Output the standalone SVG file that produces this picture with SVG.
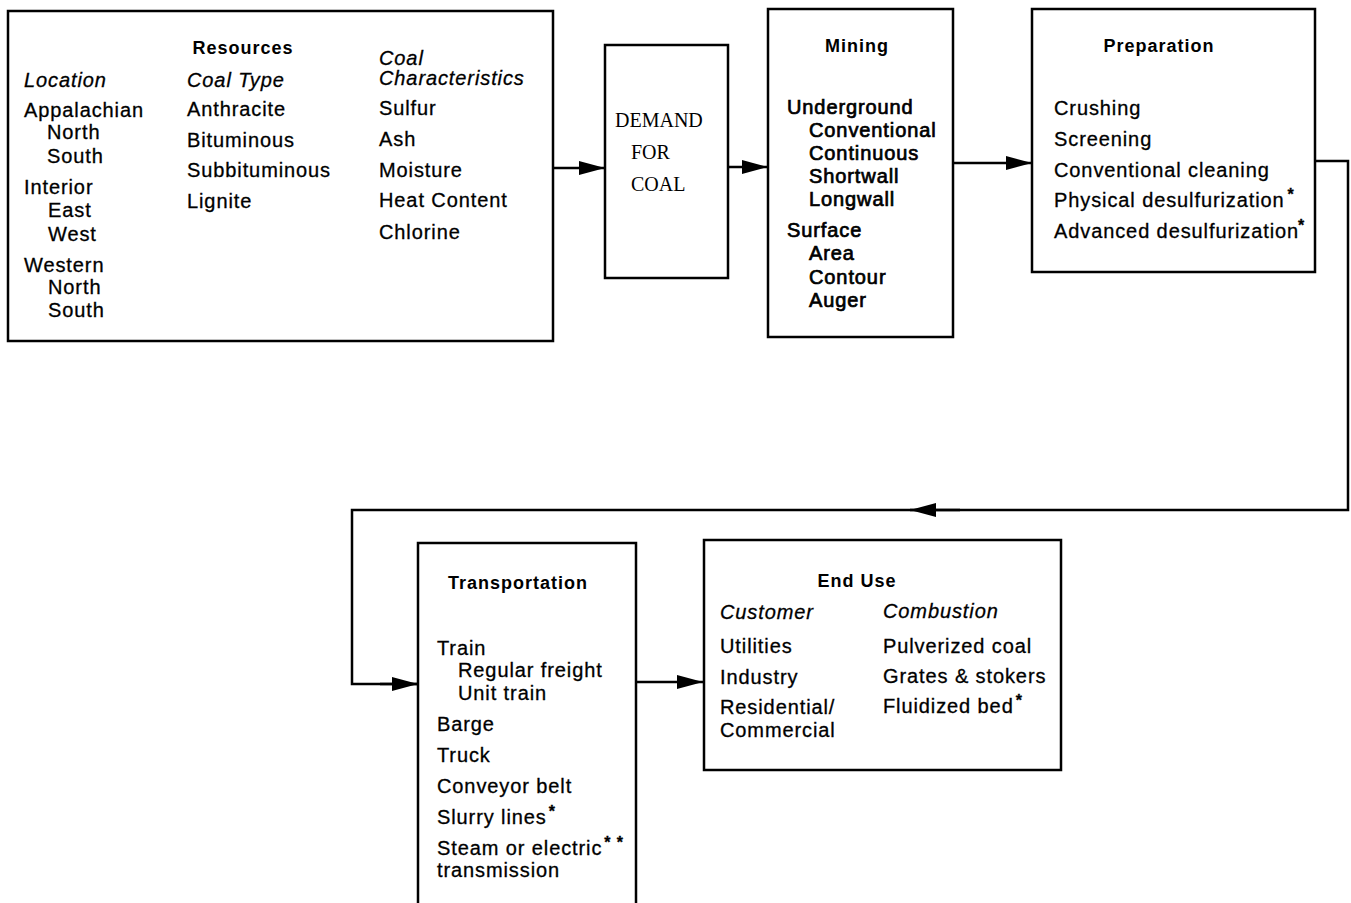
<svg xmlns="http://www.w3.org/2000/svg" width="1351" height="903" viewBox="0 0 1351 903">
<defs>
<marker id="ah" markerWidth="26" markerHeight="16" refX="26" refY="8" orient="auto" markerUnits="userSpaceOnUse">
<path d="M0,1 L26,8 L0,15 Z" fill="#000"/>
</marker>
<style>
.box{fill:#fff;stroke:#000;stroke-width:2.5}
.t{font-family:"Liberation Sans",Arial,sans-serif;font-size:20px;letter-spacing:0.9px;fill:#000;stroke:#000;stroke-width:0.3}
.m{stroke-width:0.7}
.i{font-style:italic}
.h{font-family:"Liberation Sans",Arial,sans-serif;font-size:18px;font-weight:bold;letter-spacing:1px;fill:#000;text-anchor:middle}
.s{font-family:"Liberation Serif","Times New Roman",serif;font-size:20px;fill:#000}
.c{fill:none;stroke:#000;stroke-width:2.5}
.sup{font-size:16px;font-weight:bold}
</style>
</defs>
<rect width="1351" height="903" fill="#fff"/>
<g id="connectors">
<path class="c" d="M553,168 L605,168" marker-end="url(#ah)"/>
<path class="c" d="M728,167 L768,167" marker-end="url(#ah)"/>
<path class="c" d="M953,163 L1032,163" marker-end="url(#ah)"/>
<path class="c" d="M1315,161 L1348,161 L1348,510 L352,510 L352,684 L418,684"/>
<path class="c" d="M960,510 L910,510" marker-end="url(#ah)"/>
<path class="c" d="M380,684 L418,684" marker-end="url(#ah)"/>
<path class="c" d="M636,682 L703,682" marker-end="url(#ah)"/>
</g>
<g id="resources">
<rect class="box" x="8" y="11" width="545" height="330"/>
<text class="h" x="243" y="54">Resources</text>
<text class="t i" x="24" y="87">Location</text>
<text class="t" x="24" y="117">Appalachian</text>
<text class="t" x="47" y="139">North</text>
<text class="t" x="47" y="163">South</text>
<text class="t" x="24" y="194">Interior</text>
<text class="t" x="48" y="217">East</text>
<text class="t" x="48" y="241">West</text>
<text class="t" x="24" y="272">Western</text>
<text class="t" x="48" y="294">North</text>
<text class="t" x="48" y="317">South</text>
<text class="t i" x="187" y="87">Coal Type</text>
<text class="t" x="187" y="116">Anthracite</text>
<text class="t" x="187" y="147">Bituminous</text>
<text class="t" x="187" y="177">Subbituminous</text>
<text class="t" x="187" y="208">Lignite</text>
<text class="t i" x="379" y="65">Coal</text>
<text class="t i" x="379" y="85">Characteristics</text>
<text class="t" x="379" y="115">Sulfur</text>
<text class="t" x="379" y="146">Ash</text>
<text class="t" x="379" y="177">Moisture</text>
<text class="t" x="379" y="207">Heat Content</text>
<text class="t" x="379" y="239">Chlorine</text>
</g>
<g id="demand">
<rect class="box" x="605" y="45" width="123" height="233"/>
<text class="s" x="615" y="127">DEMAND</text>
<text class="s" x="631" y="159">FOR</text>
<text class="s" x="631" y="191">COAL</text>
</g>
<g id="mining">
<rect class="box" x="768" y="9" width="185" height="328"/>
<text class="h" x="857" y="52">Mining</text>
<text class="t m" x="787" y="114">Underground</text>
<text class="t m" x="809" y="137">Conventional</text>
<text class="t m" x="809" y="160">Continuous</text>
<text class="t m" x="809" y="183">Shortwall</text>
<text class="t m" x="809" y="206">Longwall</text>
<text class="t m" x="787" y="237">Surface</text>
<text class="t m" x="809" y="260">Area</text>
<text class="t m" x="809" y="284">Contour</text>
<text class="t m" x="809" y="307">Auger</text>
</g>
<g id="preparation">
<rect class="box" x="1032" y="9" width="283" height="263"/>
<text class="h" x="1159" y="52">Preparation</text>
<text class="t" x="1054" y="115">Crushing</text>
<text class="t" x="1054" y="146">Screening</text>
<text class="t" x="1054" y="177">Conventional cleaning</text>
<text class="t" x="1054" y="207">Physical desulfurization<tspan class="sup" dx="3" dy="-7">*</tspan></text>
<text class="t" x="1054" y="238">Advanced desulfurization<tspan class="sup" dx="-1" dy="-7">*</tspan></text>
</g>
<g id="transportation">
<rect class="box" x="418" y="543" width="218" height="380"/>
<text class="h" x="518" y="589">Transportation</text>
<text class="t" x="437" y="655">Train</text>
<text class="t" x="458" y="677">Regular freight</text>
<text class="t" x="458" y="700">Unit train</text>
<text class="t" x="437" y="731">Barge</text>
<text class="t" x="437" y="762">Truck</text>
<text class="t" x="437" y="793">Conveyor belt</text>
<text class="t" x="437" y="824">Slurry lines<tspan class="sup" dx="2" dy="-7">*</tspan></text>
<text class="t" x="437" y="855">Steam or electric<tspan class="sup" dx="2" dy="-7">* *</tspan></text>
<text class="t" x="437" y="877">transmission</text>
</g>
<g id="enduse">
<rect class="box" x="704" y="540" width="357" height="230"/>
<text class="h" x="857" y="587">End Use</text>
<text class="t i" x="720" y="619">Customer</text>
<text class="t" x="720" y="653">Utilities</text>
<text class="t" x="720" y="684">Industry</text>
<text class="t" x="720" y="714">Residential/</text>
<text class="t" x="720" y="737">Commercial</text>
<text class="t i" x="883" y="618">Combustion</text>
<text class="t" x="883" y="653">Pulverized coal</text>
<text class="t" x="883" y="683">Grates &amp; stokers</text>
<text class="t" x="883" y="713">Fluidized bed<tspan class="sup" dx="2" dy="-7">*</tspan></text>
</g>
</svg>
